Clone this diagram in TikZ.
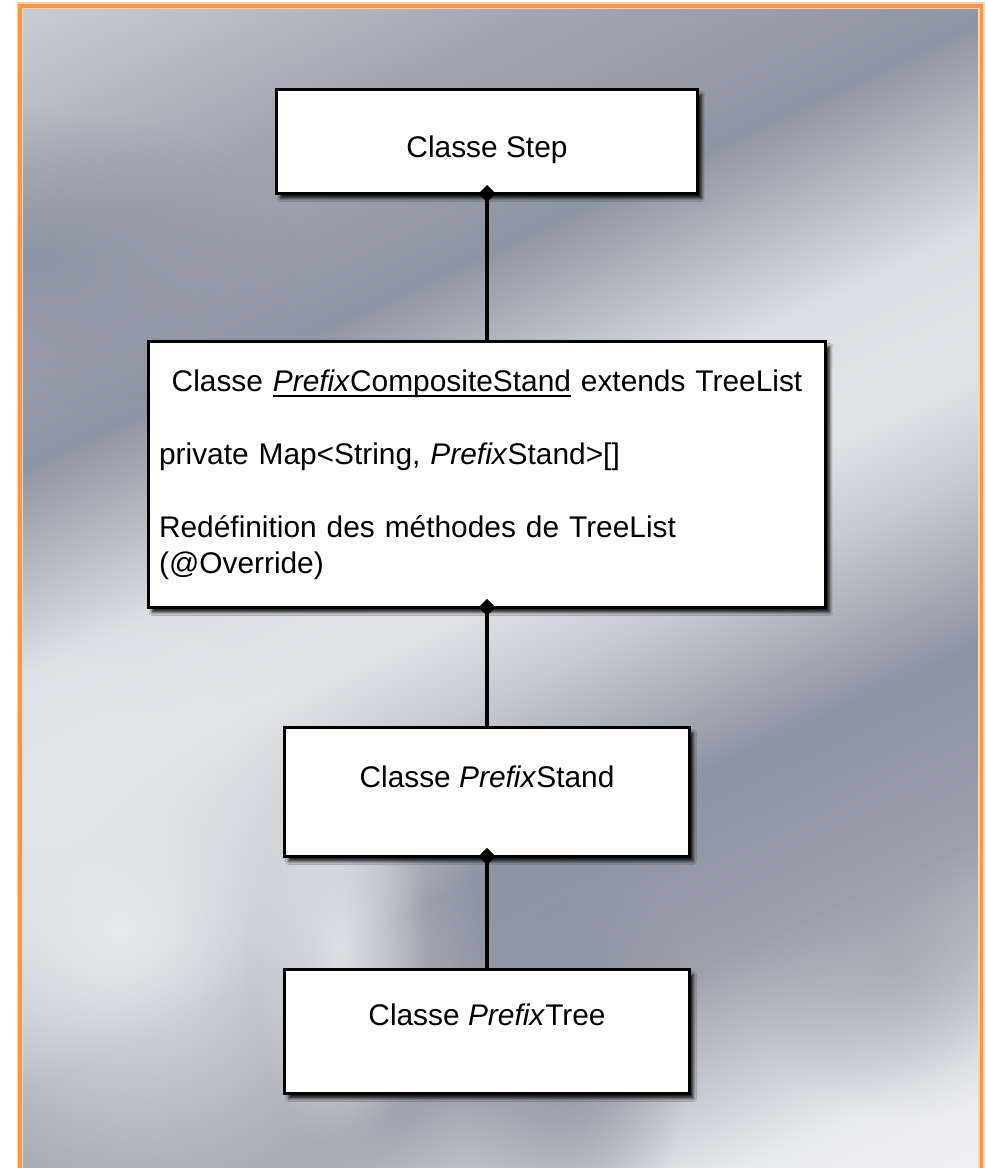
\documentclass[tikz,border=0pt]{standalone}
\usepackage{fontspec}
\setmainfont{Liberation Sans}
\usetikzlibrary{arrows.meta,shadows.blur,fadings}

\definecolor{frameorange}{HTML}{F79646}
\definecolor{mtA}{HTML}{D2D5DC}
\definecolor{mtB}{HTML}{9FA5B1}
\definecolor{mtC}{HTML}{8F96A3}
\definecolor{mtD}{HTML}{DCDEE3}
\definecolor{mtE}{HTML}{E2E3E7}
\definecolor{mtF}{HTML}{C6C9D0}
\definecolor{mtG}{HTML}{8D94A2}
\definecolor{mtH}{HTML}{9AA0AC}
\definecolor{mtI}{HTML}{E9EAED}
\definecolor{mtJ}{HTML}{F5F5F7}
\pgfdeclarehorizontalshading{metal}{100bp}{color(0bp)=(mtA); color(14.6bp)=(mtA);
  color(27.3bp)=(mtB); color(35.8bp)=(mtC); color(44.3bp)=(mtD); color(50bp)=(mtE);
  color(54.2bp)=(mtF); color(61.3bp)=(mtG); color(69bp)=(mtH); color(78.2bp)=(mtI);
  color(85.4bp)=(mtJ); color(100bp)=(mtJ)}
\tikzfading[name=metalspot, inner color=transparent!0, outer color=transparent!100]

% underline sitting close to the baseline
\newcommand{\ulword}[1]{{\setbox0\hbox{#1}\rlap{\rule[-3.4pt]{\wd0}{1.3pt}}\box0}}

\begin{document}
\begin{tikzpicture}[x=0.02cm, y=-0.02cm,
    classbox/.style={draw=black, line width=0.06cm, fill=white, anchor=north,
      inner xsep=0.22cm, inner ysep=0pt, font=\fontsize{17}{20.5}\selectfont,
      blur shadow={shadow xshift=0.08cm, shadow yshift=-0.1cm,
        shadow blur radius=0.06cm, shadow opacity=85}},
    compo/.style={line width=0.08cm, {Diamond[length=0.34cm,width=0.34cm]}-,
      shorten <=-0.2cm}]
  \useasboundingbox (0,0) rectangle (987,1168);
  \fill[white] (0,0) rectangle (987,1168);
  \begin{scope}
    \clip (20,6) rectangle (981.5,1168);
    \shade[shading=metal, shading angle=-65] (20,6) rectangle (981.5,1180);
    % brushed metal spots
    \fill[mtC, path fading=metalspot] (40,260) ellipse [x radius=260, y radius=150];
    \fill[mtI, path fading=metalspot] (120,930) ellipse [x radius=360, y radius=330];
    \fill[mtI, opacity=0.8, path fading=metalspot] (340,950) ellipse [x radius=90, y radius=200];
    \fill[mtG, opacity=0.9, path fading=metalspot] (570,1040) ellipse [x radius=120, y radius=220];
    \fill[mtH, opacity=0.6, path fading=metalspot] (900,960) ellipse [x radius=160, y radius=160];
  \end{scope}
  \begin{scope}
    \clip (0,0) rectangle (987,1168);
    \draw[frameorange!45, line width=0.14cm] (20,6) rectangle (981.5,1180);
    \draw[frameorange, line width=0.07cm] (20,6) rectangle (981.5,1180);
  \end{scope}

  \node[classbox, minimum width=8.44cm, text height=38.5pt, text depth=20.7pt]
    (step) at (487,88) {Classe Step};
  \node[classbox, minimum width=13.56cm, minimum height=5.32cm, text width=13.12cm,
    align=left] (comp) at (487,340)
    {\makebox[\linewidth][c]{Classe \ulword{\textit{Prefix}CompositeStand} extends TreeList}\\[21pt]
     private Map<String, \textit{Prefix}Stand>[]\\[21pt]
     Redéfinition des méthodes de TreeList\\
     (@Override)};
  \node[classbox, minimum width=8.1cm, text height=34pt, text depth=39.4pt]
    (stand) at (487,726) {Classe \textit{Prefix}Stand};
  \node[classbox, minimum width=8.1cm, text height=31.7pt, text depth=38.9pt]
    (tree) at (487,968) {Classe \textit{Prefix}Tree};

  \draw[compo] (step) -- (comp);
  \draw[compo] (comp) -- (stand);
  \draw[compo] (stand) -- (tree);
\end{tikzpicture}
\end{document}
